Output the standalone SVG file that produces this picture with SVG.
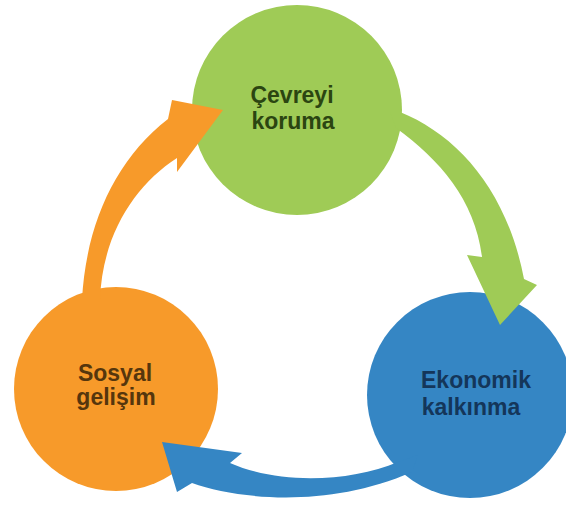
<svg xmlns="http://www.w3.org/2000/svg" width="566" height="506" viewBox="0 0 566 506">
  <style>
    .lbl { font-family: "Liberation Sans", Arial, sans-serif; font-weight: bold; font-size: 23px; text-anchor: middle; }
    .green { fill: #9FCB56; }
    .orange { fill: #F79A2A; }
    .blue { fill: #3586C4; }
    .tg { fill: #2B4511; }
    .to { fill: #55360D; }
    .tb { fill: #14365A; }
  </style>
  <rect width="566" height="506" fill="#FFFFFF"/>
  <g id="node-cevre">
    <circle class="green" cx="297" cy="110" r="105"/>
    <text class="lbl tg" x="292" y="103">Çevreyi</text>
    <text class="lbl tg" x="293" y="129">koruma</text>
  </g>
  <g id="node-ekonomi">
    <circle class="blue" cx="470" cy="395" r="103"/>
    <text class="lbl tb" x="476" y="388">Ekonomik</text>
    <text class="lbl tb" x="471" y="415">kalkınma</text>
  </g>
  <g id="node-sosyal">
    <circle class="orange" cx="116" cy="389" r="102"/>
    <text class="lbl to" x="115" y="381">Sosyal</text>
    <text class="lbl to" x="116" y="405">gelişim</text>
  </g>
  <g id="connectors">
    <path class="green" d="M390,112 L400,112 C457,135 507,190 524,279 L537,285 L500,325 L467,255 L482,257 C475,200 440,160 396,128 Z"/>
    <path class="blue" d="M418,455 L398,462 C350,482 280,485 230,463 L242,453 L162,442 L177,492 L192,483 C240,500 330,508 412,472 Z"/>
    <path class="orange" d="M82,300 C86,225 115,160 168,119 L172,100 L223,110 L177,172 L177,158 C135,185 102,235 100,300 Z"/>
  </g>
</svg>
